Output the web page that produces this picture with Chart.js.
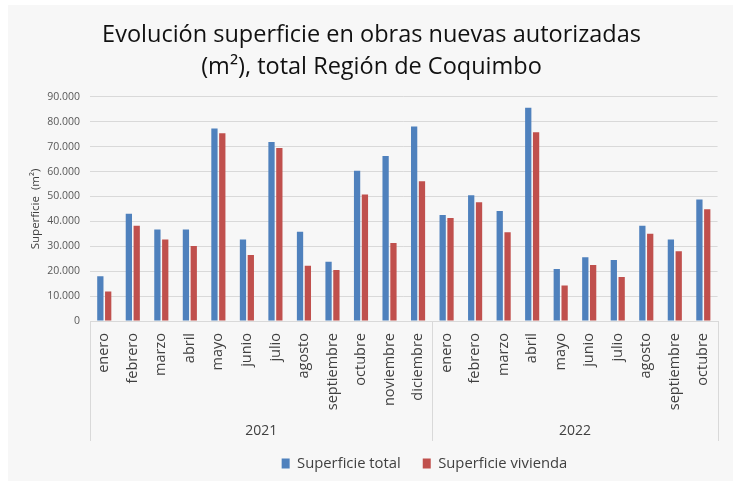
<!DOCTYPE html>
<html lang="es">
<head>
<meta charset="utf-8">
<title>Superficie obras nuevas autorizadas - Coquimbo</title>
<script src="https://cdn.jsdelivr.net/npm/chart.js@4"></script>
<style>
    html, body { margin: 0; padding: 0; background: #ffffff; }
    #wrap { position: absolute; left: 8px; top: 5px; width: 725px; height: 476px; background: #f7f7f7; }
</style>
</head>
<body>
<div id="wrap"><canvas id="barChart" width="725" height="476"></canvas></div>
<script>
// Datos
const years = ['2021', '2022'];
const months2021 = ['enero', 'febrero', 'marzo', 'abril', 'mayo', 'junio', 'julio', 'agosto', 'septiembre', 'octubre', 'noviembre', 'diciembre'];
const months2022 = ['enero', 'febrero', 'marzo', 'abril', 'mayo', 'junio', 'julio', 'agosto', 'septiembre', 'octubre'];
const superficieTotal = [18000, 43100, 36800, 36800, 77300, 32700, 71900, 35800, 23800, 60300, 66300, 78100,
                         42600, 50500, 44200, 85700, 20900, 25600, 24500, 38300, 32700, 48800];
const superficieVivienda = [11800, 38300, 32700, 30100, 75400, 26500, 69500, 22200, 20500, 50800, 31300, 56100,
                            41400, 47700, 35600, 75800, 14300, 22500, 17700, 35000, 28000, 44900];
const yTicks = [0, 10000, 20000, 30000, 40000, 50000, 60000, 70000, 80000, 90000];

const labels = months2021.concat(months2022);
const groups = [months2021.length, months2022.length];

function fmtMiles(v) {
    return String(v).replace(/\B(?=(\d{3})+(?!\d))/g, '.');
}

// Segunda fila del eje X: años + separadores
const yearAxisPlugin = {
    id: 'yearAxis',
    afterDraw(chart) {
        const x = chart.scales.x;
        const ctx = chart.ctx;
        ctx.save();
        ctx.strokeStyle = '#d9d9d9';
        ctx.lineWidth = 1;
        let start = 0;
        const edges = [x.left];
        groups.forEach((n, g) => {
            const last = start + n - 1;
            const right = (last + 1 < labels.length)
                ? (x.getPixelForValue(last) + x.getPixelForValue(last + 1)) / 2
                : x.right;
            edges.push(right);
            ctx.fillStyle = '#404040';
            ctx.font = "14px 'Open Sans'";
            ctx.textAlign = 'center';
            ctx.textBaseline = 'middle';
            ctx.fillText(years[g], (edges[g] + right) / 2, x.bottom - 10);
            start += n;
        });
        edges.forEach(px => {
            const p = Math.round(px) + 0.5;
            ctx.beginPath();
            ctx.moveTo(p, x.top);
            ctx.lineTo(p, x.bottom);
            ctx.stroke();
        });
        ctx.restore();
    }
};

// Ajuste fino de título y leyenda para que queden donde en el original
const boxShift = {
    id: 'boxShift',
    afterLayout(chart) {
        chart.legend.left += 60;
        chart.legend.right += 60;
        chart.legend.top -= 7;
        chart.legend.bottom -= 7;
        chart.titleBlock.left += 7;
        chart.titleBlock.right += 7;
    }
};

Chart.defaults.font.family = "'Open Sans', sans-serif";
Chart.defaults.color = '#595959';

new Chart(document.getElementById('barChart'), {
    type: 'bar',
    data: {
        labels: labels,
        datasets: [
            {
                label: 'Superficie total',
                data: superficieTotal,
                backgroundColor: '#4f81bd',
                categoryPercentage: 0.55,
                barPercentage: 0.8
            },
            {
                label: 'Superficie vivienda',
                data: superficieVivienda,
                backgroundColor: '#c0504d',
                categoryPercentage: 0.55,
                barPercentage: 0.8
            }
        ]
    },
    options: {
        responsive: false,
        animation: false,
        layout: { padding: { left: 0, right: 12, top: 0, bottom: -6.8 } },
        plugins: {
            title: {
                display: true,
                text: ['Evolución superficie en obras nuevas autorizadas', '(m²), total Región de Coquimbo'],
                color: '#111111',
                font: { size: 23.5, weight: 'normal', lineHeight: 1.36 },
                padding: { top: 14, bottom: 14 }
            },
            legend: {
                position: 'bottom',
                labels: {
                    color: '#404040',
                    font: { size: 14.8 },
                    boxWidth: 8,
                    boxHeight: 10,
                    padding: 22
                }
            },
            tooltip: { enabled: false }
        },
        scales: {
            x: {
                grid: { display: false, drawTicks: false },
                border: { display: true, color: '#d9d9d9' },
                ticks: {
                    color: '#404040',
                    font: { size: 14.5 },
                    minRotation: 90,
                    maxRotation: 90,
                    autoSkip: false,
                    padding: 12
                },
                afterFit(scale) { scale.height = 120; }
            },
            y: {
                min: 0,
                max: 90000,
                afterBuildTicks(scale) { scale.ticks = yTicks.map(v => ({ value: v })); },
                grid: { color: '#d9d9d9', drawTicks: false },
                border: { display: false },
                ticks: {
                    font: { size: 10.5 },
                    padding: 10,
                    callback: v => fmtMiles(v)
                },
                title: {
                    display: true,
                    text: 'Superficie  (m²)',
                    color: '#404040',
                    font: { size: 11.5 },
                    padding: { top: 21, bottom: 0 }
                },
                afterFit(scale) { scale.width = 82; }
            }
        }
    },
    plugins: [yearAxisPlugin, boxShift]
});
</script>
</body>
</html>
